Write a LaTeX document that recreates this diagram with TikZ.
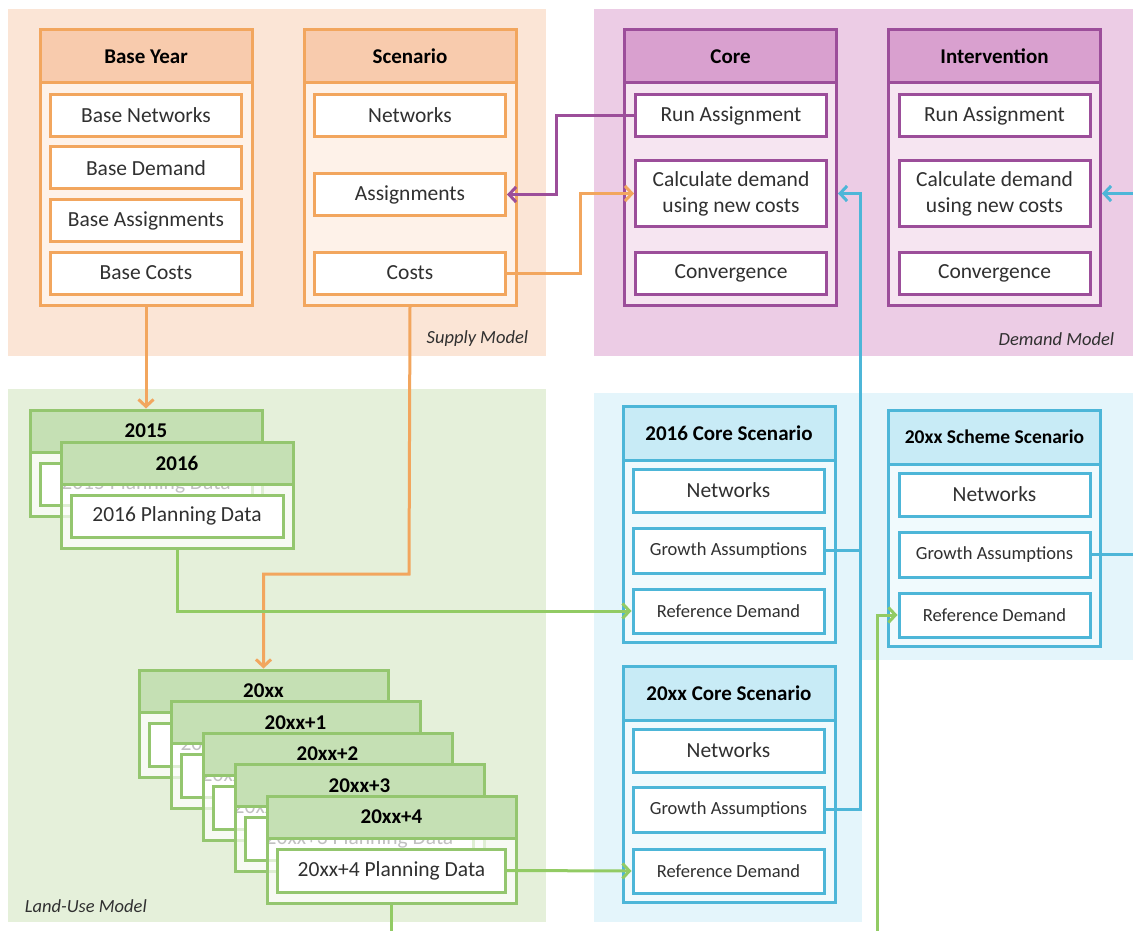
\documentclass[tikz,border=0pt]{standalone}
\usepackage{fontspec}
\setmainfont{Carlito}
\usetikzlibrary{arrows.meta}

\definecolor{orBg}{HTML}{FBE5D6}
\definecolor{orBody}{HTML}{FEF2E9}
\definecolor{orHead}{HTML}{F8CBAD}
\definecolor{orLine}{HTML}{F2A65E}
\definecolor{puBg}{HTML}{ECCCE5}
\definecolor{puBody}{HTML}{F6E5F1}
\definecolor{puHead}{HTML}{D9A0CF}
\definecolor{puLine}{HTML}{9C4E9A}
\definecolor{blBg}{HTML}{E4F5FB}
\definecolor{blBody}{HTML}{F0FAFD}
\definecolor{blHead}{HTML}{C8EBF6}
\definecolor{blLine}{HTML}{4DB6D8}
\definecolor{grBg}{HTML}{E5F0DA}
\definecolor{grHead}{HTML}{C5E0B4}
\definecolor{grLine}{HTML}{94C66F}
\definecolor{grArrow}{HTML}{92CB64}
\definecolor{txt}{HTML}{303030}

\begin{document}
\begin{tikzpicture}[x=1pt, y=-1pt, line width=3pt,
    holder/.style={rectangle, inner sep=0pt, minimum width=212pt},
    head/.style={rectangle, inner sep=0pt, minimum width=212pt, minimum height=53pt,
      font=\fontsize{21}{24}\selectfont\bfseries},
    item/.style={rectangle, inner sep=0pt, fill=white, minimum width=191pt, minimum height=42pt,
      text=txt, align=center, font=\fontsize{21.5}{26}\selectfont},
    small/.style={font=\fontsize{18.5}{22}\selectfont},
    card/.style={rectangle, inner sep=0pt, draw=grLine, fill=white, fill opacity=0.7,
      text opacity=1, minimum height=106pt},
    cardhead/.style={rectangle, inner sep=0pt, draw=grLine, fill=grHead, minimum height=42pt,
      font=\fontsize{21}{24}\selectfont\bfseries},
    carditem/.style={item, draw=grLine},
    model/.style={font=\fontsize{18.5}{20}\selectfont\itshape, text=txt},
    arrow/.style={-{Straight Barb[length=7pt,width=15pt]}}]

  \useasboundingbox (0,0) rectangle (1133,931);

  % model panels
  \fill[orBg] (8,9) rectangle (546,356);
  \fill[puBg] (594,9) rectangle (1133,356);
  \fill[grBg] (8,389) rectangle (546,922);
  \fill[blBg] (594,393) rectangle (862,922);
  \fill[blBg] (862,393) rectangle (1133,660);

  \node[model, anchor=east] (supplyLbl) at (533,339) {Supply Model};
  \node[model, anchor=east] (demandLbl) at (1119,339) {Demand Model};
  \node[model, anchor=west] (landLbl) at (20,906) {Land-Use Model};

  % supply model
  \node[holder, draw=orLine, fill=orBody, minimum height=275pt] (base) at (146,167.5) {};
  \node[head, draw=orLine, fill=orHead] (baseH) at (146,56.5) {Base Year};
  \node[item, draw=orLine] (baseNet) at (146,115.5) {Base Networks};
  \node[item, draw=orLine] (baseDem) at (146,168) {Base Demand};
  \node[item, draw=orLine] (baseAss) at (146,220.5) {Base Assignments};
  \node[item, draw=orLine] (baseCost) at (146,273) {Base Costs};

  \node[holder, draw=orLine, fill=orBody, minimum height=275pt] (scen) at (410,167.5) {};
  \node[head, draw=orLine, fill=orHead] (scenH) at (410,56.5) {Scenario};
  \node[item, draw=orLine] (scNet) at (410,115.5) {Networks};
  \node[item, draw=orLine] (scAss) at (410,194.5) {Assignments};
  \node[item, draw=orLine] (scCost) at (410,273) {Costs};

  % demand model
  \node[holder, draw=puLine, fill=puBody, minimum height=275pt] (core) at (730.5,167.5) {};
  \node[head, draw=puLine, fill=puHead] (coreH) at (730.5,56.5) {Core};
  \node[item, draw=puLine] (coreRun) at (731,115.5) {Run Assignment};
  \node[item, draw=puLine, minimum height=65pt] (coreCalc) at (731,193.5) {Calculate demand\\using new costs};
  \node[item, draw=puLine] (coreConv) at (731,273) {Convergence};

  \node[holder, draw=puLine, fill=puBody, minimum height=275pt] (interv) at (994.5,167.5) {};
  \node[head, draw=puLine, fill=puHead] (intervH) at (994.5,56.5) {Intervention};
  \node[item, draw=puLine] (intRun) at (994.5,115.5) {Run Assignment};
  \node[item, draw=puLine, minimum height=65pt] (intCalc) at (994.5,193.5) {Calculate demand\\using new costs};
  \node[item, draw=puLine] (intConv) at (994.5,273) {Convergence};

  % scenarios
  \node[holder, draw=blLine, fill=blBody, minimum height=236pt] (c2016) at (729,524) {};
  \node[head, draw=blLine, fill=blHead, minimum height=54pt] (c2016H) at (729,433) {2016 Core Scenario};
  \node[item, draw=blLine, minimum height=43pt] (cNet) at (728.5,490.5) {Networks};
  \node[item, small, draw=blLine, minimum height=45pt] (cGrowth) at (728.5,550.5) {Growth Assumptions};
  \node[item, small, draw=blLine, minimum height=44pt] (cRef) at (728.5,611) {Reference Demand};

  \node[holder, draw=blLine, fill=blBody, minimum height=236pt] (scheme) at (994.5,528) {};
  \node[head, draw=blLine, fill=blHead, minimum height=54pt, font=\fontsize{19.5}{22}\selectfont\bfseries] (schemeH) at (994.5,437) {20xx Scheme Scenario};
  \node[item, draw=blLine, minimum height=43pt] (sNet) at (994.5,494.5) {Networks};
  \node[item, small, draw=blLine, minimum height=45pt] (sGrowth) at (994.5,554.5) {Growth Assumptions};
  \node[item, small, draw=blLine, minimum height=44pt] (sRef) at (994.5,615) {Reference Demand};

  \node[holder, draw=blLine, fill=blBody, minimum height=236pt] (cxx) at (729,784) {};
  \node[head, draw=blLine, fill=blHead, minimum height=54pt] (cxxH) at (729,693) {20xx Core Scenario};
  \node[item, draw=blLine, minimum height=43pt] (xNet) at (728.5,750.5) {Networks};
  \node[item, small, draw=blLine, minimum height=45pt] (xGrowth) at (728.5,809.5) {Growth Assumptions};
  \node[item, small, draw=blLine, minimum height=44pt] (xRef) at (728.5,871) {Reference Demand};

  % land-use model
  \node[card, minimum width=232pt] (y2015) at (146,463) {};
  \node[cardhead, minimum width=232pt] (y2015H) at (146,431) {2015};
  \node[carditem, minimum width=212pt] (p2015) at (146,484) {2015 Planning Data};

  \node[card, minimum width=232pt] (y2016) at (177,495) {};
  \node[cardhead, minimum width=232pt] (y2016H) at (177,463) {2016};
  \node[carditem, minimum width=212pt] (p2016) at (177,516) {2016 Planning Data};

  \node[card, minimum width=249pt, minimum height=107pt] (y20xx) at (263.5,723.5) {};
  \node[cardhead, minimum width=249pt] (y20xxH) at (263.5,691) {20xx};
  \node[carditem, minimum width=228pt, minimum height=43pt] (p20xx) at (263.5,744.5) {20xx Planning Data};

  \node[card, minimum width=249pt, minimum height=107pt] (y20xxA) at (295.5,755) {};
  \node[cardhead, minimum width=249pt] (y20xxAH) at (295.5,722.5) {20xx+1};
  \node[carditem, minimum width=228pt, minimum height=43pt] (p20xxA) at (295.5,776) {20xx+1 Planning Data};

  \node[card, minimum width=249pt, minimum height=107pt] (y20xxB) at (327.5,786.5) {};
  \node[cardhead, minimum width=249pt] (y20xxBH) at (327.5,754) {20xx+2};
  \node[carditem, minimum width=228pt, minimum height=43pt] (p20xxB) at (327.5,807.5) {20xx+2 Planning Data};

  \node[card, minimum width=249pt, minimum height=107pt] (y20xxC) at (359.5,818) {};
  \node[cardhead, minimum width=249pt] (y20xxCH) at (359.5,785.5) {20xx+3};
  \node[carditem, minimum width=228pt, minimum height=43pt] (p20xxC) at (359.5,839) {20xx+3 Planning Data};

  \node[card, minimum width=249pt, minimum height=107pt] (y20xxD) at (391.5,849.5) {};
  \node[cardhead, minimum width=249pt] (y20xxDH) at (391.5,817) {20xx+4};
  \node[carditem, minimum width=228pt, minimum height=43pt] (p20xxD) at (391.5,870.5) {20xx+4 Planning Data};

  % bends and loose ends
  \coordinate (oBendA) at (409,574);
  \coordinate (oBendB) at (580,273);
  \coordinate (pBend) at (556,115.5);
  \coordinate (bBend) at (860,550.5);
  \coordinate (iEdge) at (1133,193.5);
  \coordinate (sEdge) at (1133,554.5);
  \coordinate (gBottom) at (391.5,931);
  \coordinate (gEdge) at (877,931);

  \draw[orLine, arrow] (base.south) -- (y2015H.north);
  \draw[orLine, arrow] (scen.south) -- (oBendA) -| (y20xxH.north);
  \draw[orLine, arrow] (scCost.east) -- (oBendB) |- (coreCalc.west);

  \draw[puLine, arrow] (coreRun.west) -- (pBend) |- (scAss.east);

  \draw[blLine, arrow] (cGrowth.east) -- (bBend) |- (core.east |- coreCalc.east);
  \draw[blLine] (xGrowth.east) -| (bBend);
  \draw[blLine, arrow] (iEdge) -- (interv.east |- intCalc.east);
  \draw[blLine] (sGrowth.east) -- (sEdge);

  \draw[grArrow, arrow] (y2016.south) |- (cRef.west);
  \draw[grArrow, arrow] (p20xxD.east) -- (xRef.west);
  \draw[grArrow] (y20xxD.south) -- (gBottom);
  \draw[grArrow, arrow] (gEdge) |- (sRef.west);
\end{tikzpicture}
\end{document}
